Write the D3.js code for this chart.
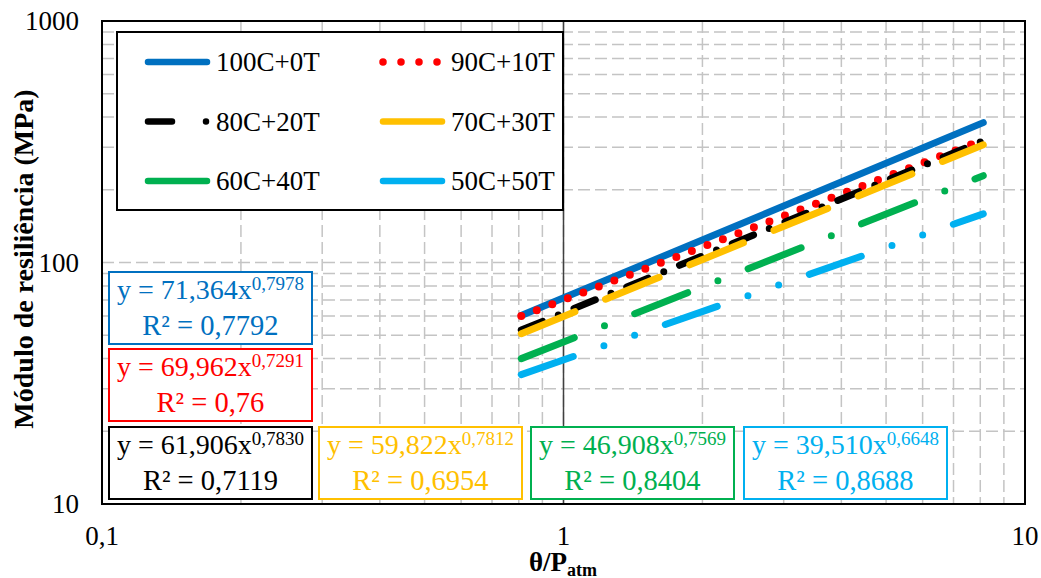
<!DOCTYPE html>
<html>
<head>
    <meta charset="UTF-8">
    <title>Módulo de resiliência</title>
    <style>
        body { margin: 0; background: #fff; }
    </style>
</head>
<body>
    <div id="chart"></div>

    <script src="https://cdn.jsdelivr.net/npm/d3@7"></script>
    <script>
        // data
        var series = ["100C+0T", "90C+10T", "80C+20T", "70C+30T", "60C+40T", "50C+50T"];
        var coefA = [71.364, 69.962, 61.906, 59.822, 46.908, 39.510];   // y = a * x^b
        var coefB = [0.7978, 0.7291, 0.7830, 0.7812, 0.7569, 0.6648];
        var rSquared = [0.7792, 0.76, 0.7119, 0.6954, 0.8404, 0.8688];
        var xRange = [0.81, 8.12];            // range of θ/Patm covered by the trend lines
        var xTicks = [0.1, 1, 10];
        var xTickLabels = ["0,1", "1", "10"];
        var yTicks = [10, 100, 1000];
        var yTickLabels = ["10", "100", "1000"];

        // styles
        var colors = ["#0070C0", "#FF0000", "#000000", "#FFC000", "#00B050", "#00B0F0"];
        var widths = [7, 8, 7, 7, 7, 7];
        var dashes = [null, "0,16.6", "23,17,0,17", "58,33", "57,32.5,0,32.5", "55,32.5,0,32.5,0,32.5"];
        var legendDashes = [null, "0,18", "24,34,0,40", null, null, null];

        var width = 1041, height = 578;
        var pLeft = 102, pRight = 1025, pTop = 21, pBottom = 504;

        var svg = d3.select("#chart").append("svg")
            .attr("width", width)
            .attr("height", height)
            .attr("font-family", "'Liberation Serif', 'Times New Roman', serif");

        var x = d3.scaleLog().domain([0.1, 10]).range([pLeft, pRight]);
        var y = d3.scaleLog().domain([10, 1000]).range([pBottom, pTop]);

        // grid (major + minor, dashed)
        var gridX = [], gridY = [];
        [0.1, 1].forEach(function (d) {
            for (var k = 1; k <= 9; k++) gridX.push(d * k);
        });
        [10, 100].forEach(function (d) {
            for (var k = 1; k <= 9; k++) gridY.push(d * k);
        });
        gridX = gridX.filter(function (d) { return d > 0.1; });
        gridY = gridY.filter(function (d) { return d > 10; });

        var grid = svg.append("g")
            .attr("stroke", "#c4c4c4")
            .attr("stroke-width", 1.5)
            .attr("stroke-dasharray", "12,5");
        grid.selectAll(".gx").data(gridX).enter().append("line")
            .attr("x1", function (d) { return x(d); })
            .attr("x2", function (d) { return x(d); })
            .attr("y1", pTop).attr("y2", pBottom);
        grid.selectAll(".gy").data(gridY).enter().append("line")
            .attr("y1", function (d) { return y(d); })
            .attr("y2", function (d) { return y(d); })
            .attr("x1", pLeft).attr("x2", pRight);

        // vertical axis line at x = 1
        svg.append("line")
            .attr("x1", x(1)).attr("x2", x(1))
            .attr("y1", pTop).attr("y2", pBottom)
            .attr("stroke", "#404040")
            .attr("stroke-width", 1.5);

        // plot border
        svg.append("rect")
            .attr("x", pLeft).attr("y", pTop)
            .attr("width", pRight - pLeft).attr("height", pBottom - pTop)
            .attr("fill", "none")
            .attr("stroke", "#000")
            .attr("stroke-width", 2);

        // trend lines
        var line = d3.line()
            .x(function (d) { return x(d[0]); })
            .y(function (d) { return y(d[1]); });

        series.forEach(function (name, i) {
            var pts = xRange.map(function (v) { return [v, coefA[i] * Math.pow(v, coefB[i])]; });
            svg.append("path")
                .attr("d", line(pts))
                .attr("fill", "none")
                .attr("stroke", colors[i])
                .attr("stroke-width", widths[i])
                .attr("stroke-linecap", "round")
                .attr("stroke-dasharray", dashes[i]);
        });

        // tick labels
        svg.selectAll(".ylab").data(yTicks).enter().append("text")
            .attr("x", 79)
            .attr("y", function (d) { return y(d) + 9; })
            .attr("text-anchor", "end")
            .attr("font-size", 27)
            .text(function (d, i) { return yTickLabels[i]; });

        svg.selectAll(".xlab").data(xTicks).enter().append("text")
            .attr("x", function (d) { return x(d); })
            .attr("y", 545)
            .attr("text-anchor", "middle")
            .attr("font-size", 27)
            .text(function (d, i) { return xTickLabels[i]; });

        // axis titles
        svg.append("text")
            .attr("transform", "translate(33,259) rotate(-90)")
            .attr("text-anchor", "middle")
            .attr("font-size", 28)
            .attr("font-weight", "bold")
            .text("Módulo de resiliência (MPa)");

        var xt = svg.append("text")
            .attr("x", 529).attr("y", 571)
            .attr("font-size", 27)
            .attr("font-weight", "bold");
        xt.append("tspan").text("θ/P");
        xt.append("tspan").attr("font-size", 18).attr("dy", 5).text("atm");

        // legend
        var lg = svg.append("g");
        lg.append("rect")
            .attr("x", 117).attr("y", 32)
            .attr("width", 446).attr("height", 178)
            .attr("fill", "#fff")
            .attr("stroke", "#000")
            .attr("stroke-width", 2);

        series.forEach(function (name, i) {
            var col = i % 2, row = Math.floor(i / 2);
            var lx = col === 0 ? 145 : 380;
            var ly = 62 + row * 59.5;
            lg.append("line")
                .attr("x1", lx + 3).attr("x2", lx + 62)
                .attr("y1", ly).attr("y2", ly)
                .attr("stroke", colors[i])
                .attr("stroke-width", i === 1 ? 7.5 : 6.5)
                .attr("stroke-linecap", "round")
                .attr("stroke-dasharray", legendDashes[i]);
            lg.append("text")
                .attr("x", lx + 71).attr("y", ly + 9)
                .attr("font-size", 27)
                .text(name);
        });

        // equation boxes
        var boxPos = [[109, 272], [109, 349], [109, 427], [319, 427], [531, 427], [744, 427]];
        var boxW = 203, boxH = 72;

        function comma(v) { return String(v).replace(".", ","); }

        series.forEach(function (name, i) {
            var bx = boxPos[i][0], by = boxPos[i][1];
            var g = svg.append("g").attr("fill", colors[i]);
            g.append("rect")
                .attr("x", bx).attr("y", by)
                .attr("width", boxW).attr("height", boxH)
                .attr("fill", "#fff")
                .attr("stroke", colors[i])
                .attr("stroke-width", 2);
            var t1 = g.append("text")
                .attr("x", bx + boxW / 2).attr("y", by + 27)
                .attr("text-anchor", "middle")
                .attr("font-size", 28);
            t1.append("tspan").text("y = " + comma(coefA[i].toFixed(3)) + "x");
            t1.append("tspan").attr("font-size", 19).attr("dy", -9).text(comma(coefB[i].toFixed(4)));
            g.append("text")
                .attr("x", bx + boxW / 2).attr("y", by + 63)
                .attr("text-anchor", "middle")
                .attr("font-size", 28.5)
                .text("R² = " + comma(rSquared[i]));
        });
    </script>
</body>
</html>
